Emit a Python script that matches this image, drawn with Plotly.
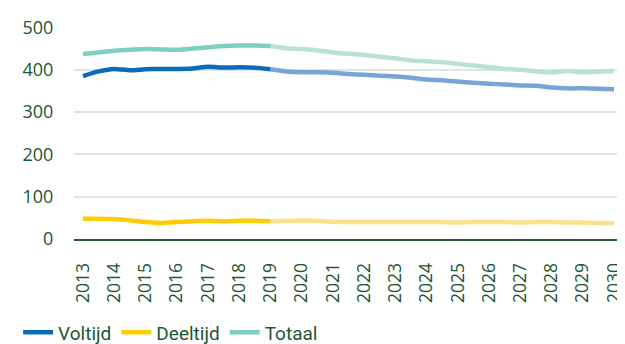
import plotly.graph_objects as go

# Half-year points
years_hist = [2013, 2013.5, 2014, 2014.5, 2015, 2015.5, 2016, 2016.5, 2017,
              2017.5, 2018, 2018.5, 2019]
years_proj = [2019, 2019.5, 2020, 2020.5, 2021, 2021.5, 2022, 2022.5, 2023,
              2023.5, 2024, 2024.5, 2025, 2025.5, 2026, 2026.5, 2027, 2027.5,
              2028, 2028.5, 2029, 2029.5, 2030]

voltijd_hist = [385, 396, 402, 399, 401, 402, 402, 403, 407, 405, 406, 405, 401]
voltijd_proj = [401, 396, 394, 394, 393, 390, 388, 386, 384, 381, 377, 375, 372,
                369, 367, 365, 363, 362, 358, 356, 356, 355, 354]

deeltijd_hist = [48, 48, 47, 44, 40, 38, 40, 42, 43, 42, 43, 43, 42]
deeltijd_proj = [42, 43, 44, 43, 41, 40, 40, 40, 40, 40, 40, 40, 39,
                 40, 40, 40, 39, 40, 40, 39, 39, 38, 37]

totaal_hist = [437, 441, 445, 447, 449, 448, 447, 450, 453, 456, 457, 457, 456]
totaal_proj = [456, 451, 449, 446, 441, 438, 435, 431, 427, 422, 420, 418, 414,
               410, 406, 402, 400, 396, 394, 397, 394, 395, 397]

tick_years = list(range(2013, 2031))
tick_labels = [str(y) for y in tick_years]
y_ticks = [0, 100, 200, 300, 400, 500]

TEXT = "#1d5632"
FONT = "Open Sans, Roboto, sans-serif"

series = [
    ("Voltijd", voltijd_hist, voltijd_proj, "#0a6bb8", "#77a5d8"),
    ("Deeltijd", deeltijd_hist, deeltijd_proj, "#ffcb05", "#fde08c"),
    ("Totaal", totaal_hist, totaal_proj, "#7dcfbf", "#b6e2d9"),
]

fig = go.Figure()
for name, hist, proj, c_dark, c_light in series:
    fig.add_trace(go.Scatter(x=years_proj, y=proj, mode="lines",
                             line=dict(color=c_light, width=4.5, shape="spline", smoothing=0.6),
                             showlegend=False, hoverinfo="skip"))
for name, hist, proj, c_dark, c_light in series:
    fig.add_trace(go.Scatter(x=years_hist, y=hist, mode="lines", name=name,
                             line=dict(color=c_dark, width=4.5, shape="spline", smoothing=0.6)))

fig.update_layout(
    width=625, height=344,
    margin=dict(l=66, r=0, t=19, b=107),
    paper_bgcolor="white", plot_bgcolor="white",
    font=dict(family=FONT, color=TEXT, size=16),
    legend=dict(orientation="h", x=-0.1, xanchor="left", y=-0.44, yanchor="middle",
                font=dict(family="Roboto, sans-serif", size=19, color=TEXT),
                traceorder="normal", itemwidth=30, bgcolor="rgba(0,0,0,0)"),
    xaxis=dict(range=[2012.712, 2030.608], tickmode="array", tickvals=tick_years,
               ticktext=tick_labels, tickangle=-90, showgrid=False, zeroline=False,
               showline=True, linecolor="#2b5a38", linewidth=2,
               ticks="outside", ticklen=15, tickcolor="rgba(0,0,0,0)",
               tickfont=dict(size=17.5, color=TEXT), automargin=False),
    yaxis=dict(range=[0, 501], tickmode="array", tickvals=y_ticks,
               showgrid=True, gridcolor="#dfe5e2", gridwidth=1.5, zeroline=False,
               showline=False, ticks="outside", ticklen=16, tickcolor="rgba(0,0,0,0)",
               tickfont=dict(size=18, color=TEXT), automargin=False),
)

fig.write_html("out.html")
